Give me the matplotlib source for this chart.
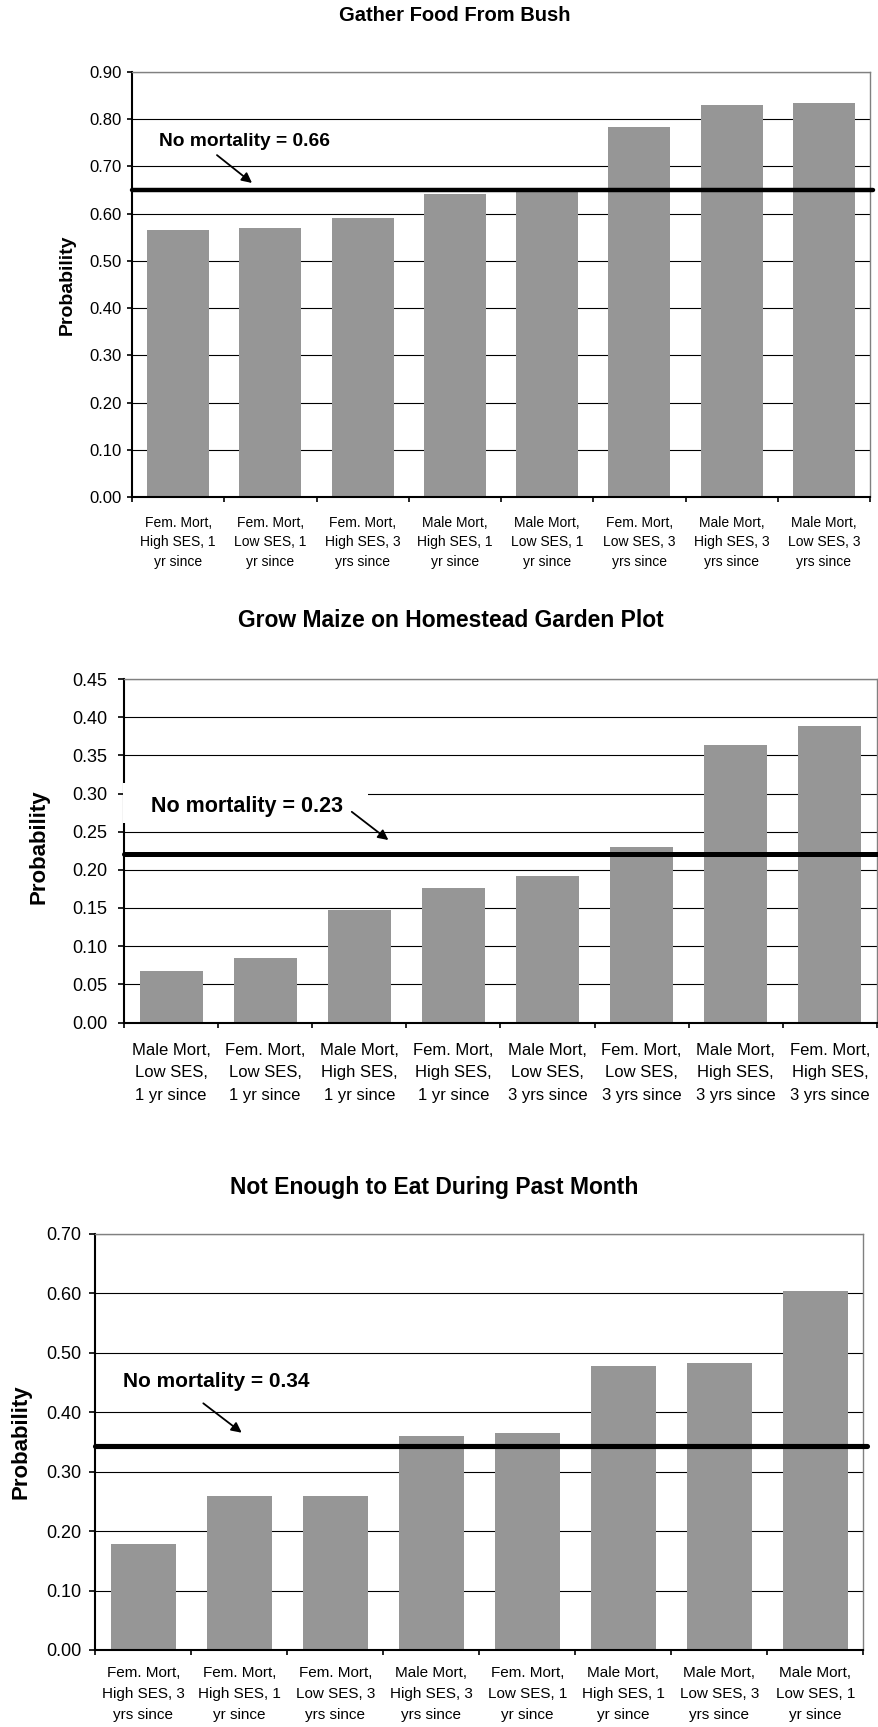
import numpy as np
import matplotlib
matplotlib.use('Agg')
import matplotlib.pyplot as plt
from matplotlib.patches import Rectangle
from matplotlib.ticker import FormatStrFormatter

plt.rcParams['font.family'] = ['Liberation Sans', 'DejaVu Sans']

W, H = 879, 1727  # output size in pixels

# --- data ---
bush_labels = ['Fem. Mort,\nHigh SES, 1\nyr since', 'Fem. Mort,\nLow SES, 1\nyr since',
               'Fem. Mort,\nHigh SES, 3\nyrs since', 'Male Mort,\nHigh SES, 1\nyr since',
               'Male Mort,\nLow SES, 1\nyr since', 'Fem. Mort,\nLow SES, 3\nyrs since',
               'Male Mort,\nHigh SES, 3\nyrs since', 'Male Mort,\nLow SES, 3\nyrs since']
bush_prob = [0.565, 0.570, 0.591, 0.641, 0.648, 0.784, 0.831, 0.835]
bush_base = 0.65

maize_labels = ['Male Mort,\nLow SES,\n1 yr since', 'Fem. Mort,\nLow SES,\n1 yr since',
                'Male Mort,\nHigh SES,\n1 yr since', 'Fem. Mort,\nHigh SES,\n1 yr since',
                'Male Mort,\nLow SES,\n3 yrs since', 'Fem. Mort,\nLow SES,\n3 yrs since',
                'Male Mort,\nHigh SES,\n3 yrs since', 'Fem. Mort,\nHigh SES,\n3 yrs since']
maize_prob = [0.068, 0.084, 0.147, 0.176, 0.192, 0.230, 0.363, 0.389]
maize_base = 0.221

eat_labels = ['Fem. Mort,\nHigh SES, 3\nyrs since', 'Fem. Mort,\nHigh SES, 1\nyr since',
              'Fem. Mort,\nLow SES, 3\nyrs since', 'Male Mort,\nHigh SES, 3\nyrs since',
              'Fem. Mort,\nLow SES, 1\nyr since', 'Male Mort,\nHigh SES, 1\nyr since',
              'Male Mort,\nLow SES, 3\nyrs since', 'Male Mort,\nLow SES, 1\nyr since']
eat_prob = [0.178, 0.259, 0.259, 0.360, 0.364, 0.478, 0.482, 0.603]
eat_base = 0.343


def px_box(l, t, r, b):
    """pixel box -> figure fraction [left, bottom, width, height]"""
    return [l / W, 1 - b / H, (r - l) / W, (b - t) / H]


def fig_text(fig, x, y, s, **kw):
    fig.text(x / W, 1 - y / H, s, **kw)


def panel(ax, labels, vals, base, ymax, step, tick_fs, xlab_fs, lsp, xpad, ylen, ypad, base_lw):
    x = np.arange(len(vals))
    ax.bar(x, vals, width=0.67, color='#969696', zorder=1)
    ax.set_xlim(-0.5, len(vals) - 0.5)
    ax.set_ylim(0, ymax)
    ax.set_axisbelow(True)
    ax.set_yticks(np.arange(0, ymax + step / 2, step))
    ax.yaxis.set_major_formatter(FormatStrFormatter('%.2f'))
    ax.grid(axis='y', color='black', lw=0.8)
    # tick marks between categories, labels at the centres
    ax.set_xticks(np.arange(len(vals) + 1) - 0.5)
    ax.set_xticklabels([])
    ax.set_xticks(x, minor=True)
    ax.set_xticklabels(labels, minor=True, fontsize=xlab_fs, linespacing=lsp)
    ax.tick_params(axis='x', which='major', direction='out', length=3.6, width=1.2)
    ax.tick_params(axis='x', which='minor', length=0, pad=xpad)
    ax.tick_params(axis='y', direction='out', length=ylen, width=1.2, labelsize=tick_fs, pad=ypad)
    for s in ('left', 'bottom'):
        ax.spines[s].set_linewidth(1.5)
    for s in ('top', 'right'):
        ax.spines[s].set_color('#808080')
        ax.spines[s].set_linewidth(1.0)
    ax.axhline(base, xmin=0, xmax=1.004, color='black', lw=base_lw,
               clip_on=False, solid_capstyle='round', zorder=3)


def note(ax, text, fs, txy, start, tip):
    ax.text(txy[0], txy[1], text, fontsize=fs, weight='bold', ha='left', va='baseline', zorder=5)
    ax.annotate('', xy=tip, xytext=start, annotation_clip=False,
                arrowprops=dict(arrowstyle='-|>', color='black', lw=1.3,
                                mutation_scale=15, shrinkA=0, shrinkB=0))


fig = plt.figure(figsize=(W / 100, H / 100), dpi=100)

# Gather food
ax1 = fig.add_axes(px_box(132, 72, 870, 497))
panel(ax1, bush_labels, bush_prob, bush_base, 0.90, 0.10,
      tick_fs=12, xlab_fs=10, lsp=1.5, xpad=13.4, ylen=3.6, ypad=3.6, base_lw=3.2)
note(ax1, 'No mortality = 0.66', 13.8, (-0.207, 0.743), (0.421, 0.724), (0.801, 0.665))
fig_text(fig, 454.5, 20.7, 'Gather Food From Bush', fontsize=14.5, weight='bold',
         ha='center', va='baseline')
fig_text(fig, 67, 284.5, 'Probability', fontsize=14, weight='bold',
         rotation=90, ha='center', va='center')

# Grow maize
ax2 = fig.add_axes(px_box(124, 679, 877, 1022.5))
panel(ax2, maize_labels, maize_prob, maize_base, 0.45, 0.05,
      tick_fs=13, xlab_fs=12, lsp=1.62, xpad=14.8, ylen=4.5, ypad=7.2, base_lw=3.6)
ax2.add_patch(Rectangle((-0.515, 0.261), 2.608, 0.0525, facecolor='white',
                        edgecolor='none', zorder=2.6, clip_on=False))
note(ax2, 'No mortality = 0.23', 15.5, (-0.216, 0.276), (1.92, 0.276), (2.309, 0.239))
fig_text(fig, 450.6, 626.7, 'Grow Maize on Homestead Garden Plot', fontsize=16.5,
         weight='bold', ha='center', va='baseline')
fig_text(fig, 39, 847, 'Probability', fontsize=16, weight='bold',
         rotation=90, ha='center', va='center')

# Not enough to eat
ax3 = fig.add_axes(px_box(95.5, 1233.6, 863.5, 1650))
panel(ax3, eat_labels, eat_prob, eat_base, 0.70, 0.10,
      tick_fs=13, xlab_fs=11, lsp=1.66, xpad=11.3, ylen=4.3, ypad=6.0, base_lw=3.7)
note(ax3, 'No mortality = 0.34', 15, (-0.217, 0.4416), (0.623, 0.4147), (1.023, 0.3653))
fig_text(fig, 433.8, 1194, 'Not Enough to Eat During Past Month', fontsize=16.5,
         weight='bold', ha='center', va='baseline')
fig_text(fig, 20.7, 1441.4, 'Probability', fontsize=16, weight='bold',
         rotation=90, ha='center', va='center')

fig.savefig('out.png', dpi=100)
